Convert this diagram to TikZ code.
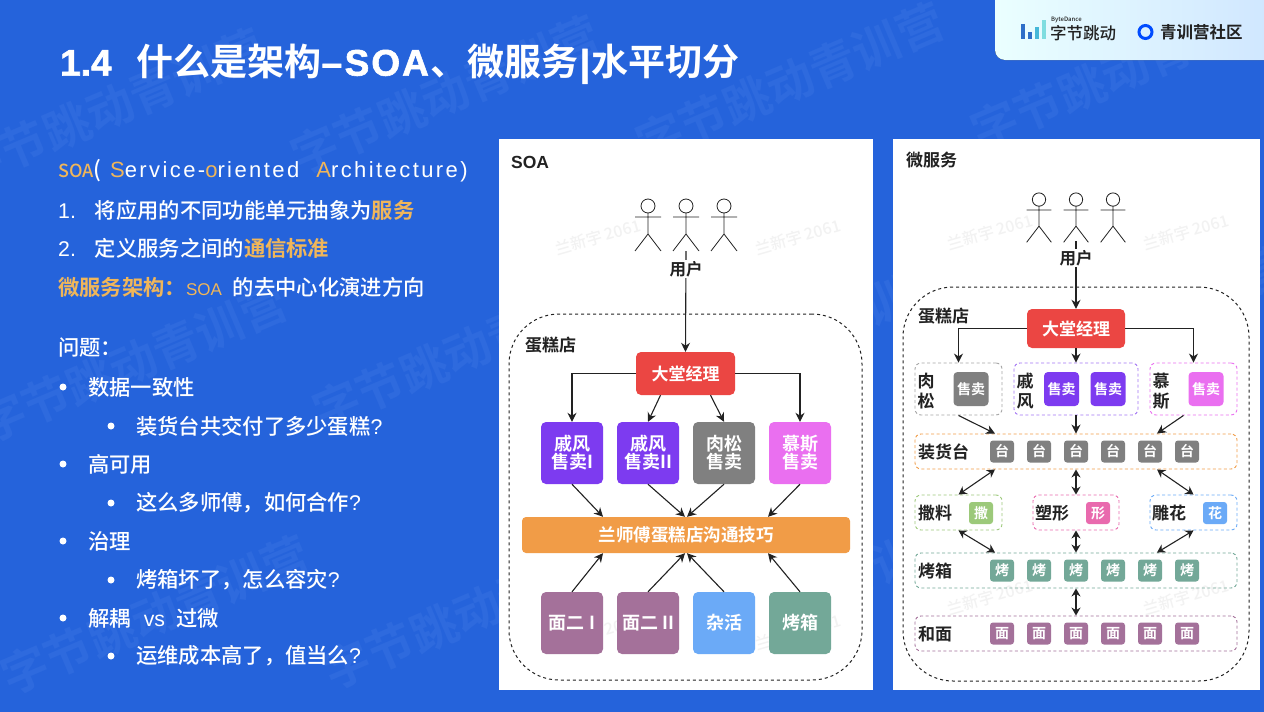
\documentclass[tikz,border=0pt]{standalone}
\usepackage{fontspec}
\setmainfont[BoldFont={Noto Sans CJK SC Bold}]{Noto Sans CJK SC Medium}
\newfontfamily\latinsp[LetterSpace=11]{Liberation Sans}
\newfontfamily\latn{Liberation Sans}
\newfontfamily\latnmid[FakeBold=1.6]{Liberation Sans}
\usetikzlibrary{arrows.meta}

\definecolor{slidebg}{HTML}{2563DB}
\definecolor{markbg}{HTML}{2E6ADE}
\definecolor{goldtxt}{HTML}{F0B65A}
\definecolor{redbox}{HTML}{EB4643}
\definecolor{purplebox}{HTML}{7D3BF0}
\definecolor{graybox}{HTML}{808080}
\definecolor{pinkbox}{HTML}{EA6FF0}
\definecolor{orangebox}{HTML}{F19C47}
\definecolor{mauvebox}{HTML}{A4719A}
\definecolor{bluebox}{HTML}{6BAAF7}
\definecolor{tealbox}{HTML}{73A898}
\definecolor{greenbox}{HTML}{9CC97A}
\definecolor{rosebox}{HTML}{E96AAE}
\definecolor{inktxt}{HTML}{222222}

\newcommand{\fsz}[1]{\fontsize{#1}{#1}\selectfont}
\newcommand{\hl}[1]{\textcolor{goldtxt}{#1}}

\tikzset{
  line/.style={draw=inktxt,line width=1.1pt,-{Stealth[length=9pt,width=9pt]}},
  bothline/.style={draw=inktxt,line width=1.1pt,{Stealth[length=8pt,width=9pt]}-{Stealth[length=8pt,width=9pt]}},
  bigbox/.style={rounded corners=5pt,text=white,align=center,inner sep=0,minimum width=62pt,minimum height=62pt,font=\fsz{18}\bfseries},
  tinybox/.style={rounded corners=3pt,text=white,inner sep=0,minimum width=24pt,minimum height=22pt,font=\fsz{14}\bfseries},
  salebox/.style={rounded corners=4pt,text=white,inner sep=0,minimum width=35pt,minimum height=34pt,font=\fsz{14}\bfseries},
  group/.style={rounded corners=6pt,dash pattern=on 3pt off 2.5pt,line width=.9pt,inner sep=0},
  shop/.style={draw=inktxt,rounded corners=50pt,dash pattern=on 3pt off 3pt,line width=1pt,inner sep=0},
  rowlabel/.style={anchor=west,inner sep=0,text=inktxt,font=\fsz{17}\bfseries},
  body/.style={anchor=west,inner sep=0,text=white,font=\fsz{21.3}},
  dotmark/.style={circle,fill=white,inner sep=0,minimum size=7pt},
  wmark/.style={text=markbg,rotate=23,inner sep=0,font=\fsz{47}\bfseries},
  cardmark/.style={text=black!5,rotate=16,inner sep=0,font=\fsz{16}},
  pics/actor/.style={code={
    \draw[inktxt,line width=.8pt] (0,-11) circle (7);
    \draw[inktxt,line width=.8pt] (-13,0) -- (13,0) (0,-4) -- (0,17) (-13,34) -- (0,17) -- (13,34);
  }}
}

\begin{document}
\begin{tikzpicture}[x=1pt,y=-1pt]

\useasboundingbox (0,0) rectangle (1264,712);
\fill[slidebg] (0,0) rectangle (1264,712);

% background watermark
\foreach \i/\x/\y in {1/110/108,2/445/95,3/790/82,4/1125/70,5/133/363,6/467/350,7/800/337,8/1135/325,9/155/615,10/477/610,11/810/595} {
  \node[wmark] (mark\i) at (\x,\y) {字节跳动青训营};
}

% badge top right
\fill[left color=white!92!cyan,right color=white!90!cyan!90!blue,rounded corners=10pt] (995,-20) rectangle (1284,60);
\foreach \i/\x/\h/\c in {1/1023/15/2F6FC8,2/1030/7/2F6FC8,3/1037/12/45B8D8,4/1044/19/7FDDE0} {
  \definecolor{barcol}{HTML}{\c}
  \fill[barcol] (\x-1.7,39-\h) rectangle (\x+1.7,39);
}
\node[inner sep=0,anchor=west,text=inktxt,font=\fsz{6}] (bytedance) at (1051,20) {ByteDance};
\node[inner sep=0,anchor=west,text=inktxt,font=\fsz{16.5}] (zijie) at (1050,33) {字节跳动};
\draw[blue!70!cyan,line width=3pt] (1145.5,32) circle (6.5);
\node[inner sep=0,anchor=west,text=inktxt,font=\fsz{16.5}\bfseries] (qingxun) at (1160,32) {青训营社区};

% title
\node[inner sep=0,anchor=west,text=white,font=\fsz{37}\bfseries] (title) at (60,64) {{\latnmid 1.4}\hspace{25pt}什么是架构{\latnmid –\hspace{2.5pt}S\hspace{2pt}O\hspace{2pt}A}\hspace{2pt}、微服务\hspace{1pt}{\latnmid |}\hspace{1pt}水平切分\hspace{1pt}};

% left text
\node[body] (soaline) at (58,171) {\fsz{18}\hl{SOA}\fsz{22}({\latinsp\ \hl{S}ervice-\hl{o}riented\ \ \hl{A}rchitecture)}};
\node[body] (pa) at (58,210) {{\latn 1.}\hspace{19pt}将应用的不同功能单元抽象为\hl{\bfseries 服务}};
\node[body] (pb) at (58,248) {{\latn 2.}\hspace{19pt}定义服务之间的\hl{\bfseries 通信标准}};
\node[body] (pc) at (58,287) {\hl{\bfseries 微服务架构：}\hl{\fsz{17}\latn SOA}\hspace{11pt}的去中心化演进方向};
\node[body] (problem) at (58,348) {问题：};
\foreach \i/\y/\t in {1/387/数据一致性,2/464/高可用,3/541/治理,4/618/解耦\hspace{13pt}{\latn vs}\hspace{11pt}过微} {
  \node[dotmark] (dot\i) at (63,\y) {};
  \node[body] (item\i) at (88,\y) {\t};
}
\foreach \i/\y/\t in {1/426/装货台共交付了多少蛋糕{\latn ?},2/503/这么多师傅，如何合作{\latn ?},3/580/烤箱坏了，怎么容灾{\latn ?},4/656/运维成本高了，值当么{\latn ?}} {
  \node[dotmark] (subdot\i) at (111,\y) {};
  \node[body] (sub\i) at (136,\y) {\t};
}

% SOA card
\fill[white] (499,139) rectangle (873,690);
\fill[white] (893,139) rectangle (1260,690);
\foreach \i/\x/\y in {1/598/237,2/798/237,3/598/632,4/798/632,5/990/232,6/1186/232,7/990/597,8/1186/597} {
  \node[cardmark] (cardmark\i) at (\x,\y) {兰新宇 2061};
}

\node[inner sep=0,anchor=west,text=inktxt,font=\fsz{17.5}\bfseries\latn] (soatitle) at (511,162) {SOA};
\foreach \x in {648,686,724} {
  \pic at (\x,217) {actor};
}
\coordinate (soafeet) at (686,251);
\node[shop,minimum width=353pt,minimum height=366pt] (soashop) at (685.5,497) {};
\node[rowlabel] (soashoplabel) at (525,345) {蛋糕店};
\node[fill=redbox,rounded corners=5pt,text=white,inner sep=0,minimum width=99pt,minimum height=43pt,font=\fsz{17}\bfseries] (soamgr) at (685.5,373.5) {大堂经理};

\node[bigbox,fill=purplebox] (wf1) at (572,453) {戚风\\售卖I};
\node[bigbox,fill=purplebox] (wf2) at (648,453) {戚风\\售卖II};
\node[bigbox,fill=graybox] (rs) at (724,453) {肉松\\售卖};
\node[bigbox,fill=pinkbox] (ms) at (800,453) {慕斯\\售卖};
\node[fill=orangebox,rounded corners=4pt,text=white,inner sep=0,minimum width=328pt,minimum height=36pt,font=\fsz{17.5}\bfseries] (skill) at (686,535) {兰师傅蛋糕店沟通技巧};
\node[bigbox,fill=mauvebox] (mian1) at (572,623) {面二 I};
\node[bigbox,fill=mauvebox] (mian2) at (648,623) {面二 II};
\node[bigbox,fill=bluebox] (zahuo) at (724,623) {杂活};
\node[bigbox,fill=tealbox] (kaoxiang) at (800,623) {烤箱};

\draw[line] (soafeet) -- (soamgr.north);
\node[fill=white,inner sep=1pt,text=inktxt,font=\fsz{16.5}\bfseries] (soauser) at (686,269) {用户};
\draw[line] (soamgr.west) -| (wf1.north);
\draw[line] (soamgr.east) -| (ms.north);
\draw[line] ([xshift=-25pt]soamgr.south) -- (wf2.north);
\draw[line] ([xshift=25pt]soamgr.south) -- (rs.north);
\draw[line] (wf1.south) -- ([xshift=-83pt]skill.north);
\draw[line] (wf2.south) -- ([xshift=-1pt]skill.north);
\draw[line] (rs.south) -- ([xshift=1pt]skill.north);
\draw[line] (ms.south) -- ([xshift=82pt]skill.north);
\draw[line] (mian1.north) -- ([xshift=-83pt]skill.south);
\draw[line] (mian2.north) -- ([xshift=-1pt]skill.south);
\draw[line] (zahuo.north) -- ([xshift=1pt]skill.south);
\draw[line] (kaoxiang.north) -- ([xshift=82pt]skill.south);

% microservice card
\node[inner sep=0,anchor=west,text=inktxt,font=\fsz{17}\bfseries] (mstitle) at (906,160) {微服务};
\foreach \x in {1039,1076,1113} {
  \pic[scale=.95] at (\x,210) {actor};
}
\coordinate (msfeet) at (1076,241);
\node[shop,minimum width=346pt,minimum height=394pt] (msshop) at (1076,484) {};
\node[rowlabel] (msshoplabel) at (918,316) {蛋糕店};
\node[fill=redbox,rounded corners=5pt,text=white,inner sep=0,minimum width=98pt,minimum height=39pt,font=\fsz{17}\bfseries] (msmgr) at (1076,328.5) {大堂经理};

\node[group,draw=graybox!70,minimum width=87pt,minimum height=52pt] (grpsong) at (958.5,389) {};
\node[group,draw=purplebox!70,minimum width=124pt,minimum height=52pt] (grpfeng) at (1076,389) {};
\node[group,draw=pinkbox,minimum width=87pt,minimum height=52pt] (grpmu) at (1193.5,389) {};
\node[text=inktxt,align=center,inner sep=0,font=\fsz{17}\bfseries] (songlabel) at (926,391) {肉\\[3pt]松};
\node[text=inktxt,align=center,inner sep=0,font=\fsz{17}\bfseries] (fenglabel) at (1025,391) {戚\\[3pt]风};
\node[text=inktxt,align=center,inner sep=0,font=\fsz{17}\bfseries] (mulabel) at (1161,391) {慕\\[3pt]斯};
\node[salebox,fill=graybox] (salesong) at (971,389) {售卖};
\node[salebox,fill=purplebox] (salefenga) at (1061.5,389) {售卖};
\node[salebox,fill=purplebox] (salefengb) at (1108,389) {售卖};
\node[salebox,fill=pinkbox] (salemu) at (1206,389) {售卖};

\node[group,draw=orangebox,minimum width=322pt,minimum height=35pt] (rowtai) at (1076,451.5) {};
\node[group,draw=greenbox,minimum width=87pt,minimum height=35pt] (grpsa) at (958.5,512.5) {};
\node[group,draw=rosebox,minimum width=86pt,minimum height=35pt] (grpsu) at (1076,512.5) {};
\node[group,draw=bluebox,minimum width=87pt,minimum height=35pt] (grpdiao) at (1193.5,512.5) {};
\node[group,draw=tealbox,minimum width=322pt,minimum height=35pt] (rowkao) at (1076,570.5) {};
\node[group,draw=mauvebox,minimum width=322pt,minimum height=35pt] (rowmian) at (1076,633.5) {};

\node[rowlabel] (tailabel) at (918,451.5) {装货台};
\node[rowlabel] (salabel) at (918,513) {撒料};
\node[rowlabel] (sulabel) at (1035,513) {塑形};
\node[rowlabel] (diaolabel) at (1152,513) {雕花};
\node[rowlabel] (kaolabel) at (918,571) {烤箱};
\node[rowlabel] (mianlabel) at (918,634) {和面};

\foreach \i/\x in {1/1002,2/1039,3/1076,4/1113,5/1150,6/1187} {
  \node[tinybox,fill=graybox] (tai\i) at (\x,451.5) {台};
  \node[tinybox,fill=tealbox] (kao\i) at (\x,570.5) {烤};
  \node[tinybox,fill=mauvebox] (mian\i) at (\x,633.5) {面};
}
\node[tinybox,fill=greenbox] (sa) at (981,513) {撒};
\node[tinybox,fill=rosebox] (su) at (1098,513) {形};
\node[tinybox,fill=bluebox] (diao) at (1215,513) {花};

\draw[line] (msfeet) -- (msmgr.north);
\node[fill=white,inner sep=1pt,text=inktxt,font=\fsz{16.5}\bfseries] (msuser) at (1076,258) {用户};
\draw[line] (msmgr.west) -| (grpsong.north);
\draw[line] (msmgr.east) -| (grpmu.north);
\draw[line] (msmgr.south) -- (grpfeng.north);
\draw[line] (grpsong.south) -- ([xshift=-81pt]rowtai.north);
\draw[line] (grpfeng.south) -- (rowtai.north);
\draw[line] ([xshift=-10pt]grpmu.south) -- ([xshift=81pt]rowtai.north);
\draw[bothline] ([xshift=-81pt]rowtai.south) -- (grpsa.north);
\draw[bothline] (rowtai.south) -- (grpsu.north);
\draw[bothline] ([xshift=81pt]rowtai.south) -- (grpdiao.north);
\draw[bothline] (grpsa.south) -- ([xshift=-81pt]rowkao.north);
\draw[bothline] (grpsu.south) -- (rowkao.north);
\draw[bothline] (grpdiao.south) -- ([xshift=81pt]rowkao.north);
\draw[bothline] (rowkao.south) -- (rowmian.north);

\end{tikzpicture}
\end{document}
